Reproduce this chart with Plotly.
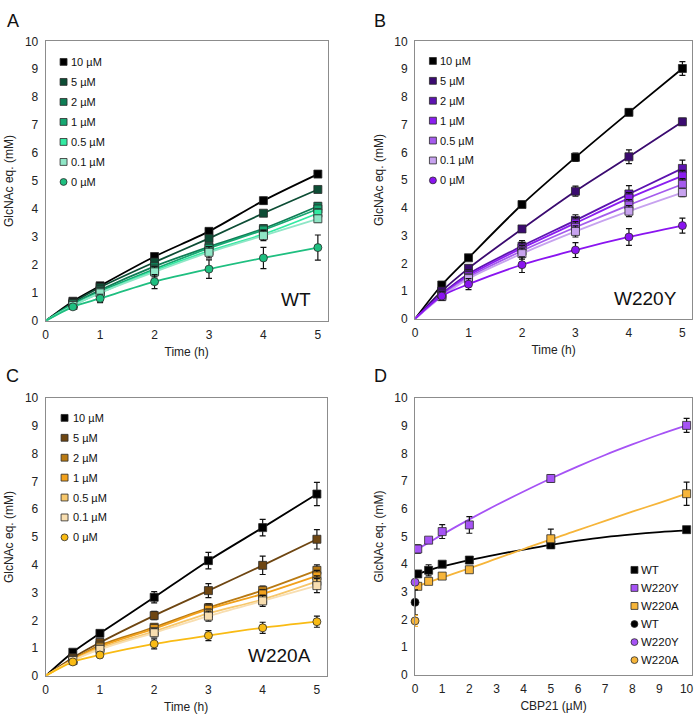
import plotly.graph_objects as go

W, H = 700, 724

# ---------------- data ----------------
TIME = [0.5, 1, 2, 3, 4, 5]
CONC_LABELS = ["10 µM", "5 µM", "2 µM", "1 µM", "0.5 µM", "0.1 µM", "0 µM"]

WT_MEANS = [
    [0.70, 1.25, 2.30, 3.20, 4.30, 5.25],
    [0.65, 1.20, 2.10, 2.95, 3.85, 4.70],
    [0.60, 1.10, 1.95, 2.65, 3.30, 4.10],
    [0.60, 1.05, 1.85, 2.60, 3.25, 4.00],
    [0.55, 1.00, 1.80, 2.50, 3.10, 3.85],
    [0.55, 1.00, 1.75, 2.45, 3.05, 3.65],
    [0.50, 0.80, 1.40, 1.85, 2.25, 2.62],
]
WT_ERR = [
    [0.05, 0.08, 0.08, 0.10, 0.12, 0.12],
    [0.05, 0.05, 0.06, 0.08, 0.08, 0.08],
    [0.05, 0.06, 0.08, 0.10, 0.12, 0.12],
    [0.05, 0.06, 0.10, 0.12, 0.12, 0.12],
    [0.05, 0.08, 0.15, 0.15, 0.15, 0.15],
    [0.08, 0.10, 0.18, 0.20, 0.18, 0.12],
    [0.08, 0.15, 0.25, 0.33, 0.38, 0.45],
]

W220Y_MEANS = [
    [1.22, 2.20, 4.12, 5.82, 7.44, 9.02],
    [1.00, 1.82, 3.24, 4.60, 5.84, 7.10],
    [0.90, 1.62, 2.62, 3.55, 4.50, 5.42],
    [0.86, 1.56, 2.55, 3.45, 4.35, 5.15],
    [0.82, 1.50, 2.45, 3.30, 4.10, 4.85],
    [0.80, 1.45, 2.35, 3.15, 3.88, 4.55],
    [0.82, 1.25, 1.95, 2.48, 2.95, 3.36],
]
W220Y_ERR = [
    [0.08, 0.08, 0.10, 0.15, 0.12, 0.25],
    [0.08, 0.10, 0.08, 0.18, 0.25, 0.12],
    [0.10, 0.15, 0.20, 0.20, 0.30, 0.30],
    [0.10, 0.15, 0.20, 0.20, 0.20, 0.20],
    [0.10, 0.12, 0.20, 0.20, 0.20, 0.20],
    [0.10, 0.12, 0.20, 0.20, 0.20, 0.15],
    [0.15, 0.20, 0.28, 0.27, 0.30, 0.27],
]

W220A_MEANS = [
    [0.85, 1.53, 2.83, 4.15, 5.34, 6.55],
    [0.65, 1.20, 2.17, 3.07, 3.98, 4.92],
    [0.60, 1.10, 1.75, 2.45, 3.08, 3.80],
    [0.58, 1.05, 1.70, 2.40, 2.95, 3.60],
    [0.55, 1.00, 1.60, 2.25, 2.75, 3.40],
    [0.55, 0.95, 1.55, 2.15, 2.70, 3.25],
    [0.50, 0.75, 1.15, 1.45, 1.73, 1.95],
]
W220A_ERR = [
    [0.05, 0.05, 0.20, 0.30, 0.30, 0.42],
    [0.05, 0.10, 0.15, 0.25, 0.33, 0.35],
    [0.05, 0.08, 0.12, 0.15, 0.15, 0.20],
    [0.05, 0.08, 0.12, 0.15, 0.15, 0.20],
    [0.05, 0.08, 0.12, 0.15, 0.15, 0.20],
    [0.05, 0.08, 0.15, 0.18, 0.20, 0.25],
    [0.08, 0.10, 0.18, 0.18, 0.20, 0.20],
]

# panel D: product after 5 h vs CBP21 concentration
CBP21 = [0.1, 0.5, 1, 2, 5, 10]
VARIANTS = ["WT", "W220Y", "W220A"]
D_MEANS = [
    [3.65, 3.78, 4.00, 4.15, 4.70, 5.25],
    [4.55, 4.87, 5.18, 5.42, 7.10, 9.02],
    [3.20, 3.38, 3.57, 3.80, 4.92, 6.55],
]
D_ERR = [
    [0.10, 0.20, 0.08, 0.10, 0.10, 0.10],
    [0.15, 0.08, 0.25, 0.30, 0.12, 0.25],
    [0.10, 0.10, 0.10, 0.08, 0.35, 0.42],
]
# fitted trend curves in panel D
D_FIT_X = [0.1, 0.5, 1, 2, 3, 4, 5, 6, 7, 8, 9, 10]
D_FIT = [
    [3.65, 3.78, 3.92, 4.15, 4.35, 4.53, 4.70, 4.85, 4.98, 5.08, 5.16, 5.22],
    [4.55, 4.78, 5.07, 5.62, 6.14, 6.63, 7.10, 7.54, 7.95, 8.33, 8.69, 9.02],
    [3.20, 3.35, 3.52, 3.85, 4.20, 4.55, 4.90, 5.23, 5.57, 5.90, 6.22, 6.55],
]
D_ZERO_X = [0]
D_ZERO_MEANS = [2.62, 3.35, 1.95]
D_ZERO_ERR = [0.45, 0.08, 0.20]

# ---------------- styles ----------------
GREENS = ["#000000", "#0d4d35", "#0f7d55", "#17a872", "#33eaa2", "#8fe6c6", "#1fbf80"]
PURPLES = ["#000000", "#3b0b70", "#5d13b0", "#8b1ef0", "#a55bed", "#c7a2ef", "#8a14f0"]
ORANGES = ["#000000", "#6e4612", "#b97a13", "#f2a11c", "#f7c76b", "#f8deb0", "#f9bb14"]
D_COLORS = ["#000000", "#a653f5", "#f6b53a"]

FONT = "Liberation Sans, Arial, sans-serif"
FRAME = "#8c8c8c"

fig = go.Figure()


def px_x(p):
    return p / W


def px_y(p):
    return 1 - p / H


# axes domains (pixels)
PANELS = {
    "A": dict(x=(43, 327), y=(35, 320)),
    "B": dict(x=(415, 694), y=(35, 318)),
    "C": dict(x=(43, 326), y=(399, 682)),
    "D": dict(x=(415, 694), y=(399, 681)),
}

ERR_STYLE = dict(type="data", color="#111111", thickness=1.2, width=3)


def add_time_panel(means, errs, colors, ax):
    xa = "x" + ("" if ax == 1 else str(ax))
    ya = "y" + ("" if ax == 1 else str(ax))
    for i, (m, e, c) in enumerate(zip(means, errs, colors)):
        fig.add_trace(go.Scatter(
            x=[0] + TIME, y=[0] + m, mode="lines",
            line=dict(color=c, width=1.8, shape="spline", smoothing=0.8),
            xaxis=xa, yaxis=ya, showlegend=False, hoverinfo="skip"))
        fig.add_trace(go.Scatter(
            x=TIME, y=m, mode="markers",
            marker=dict(symbol="circle" if i == len(means) - 1 else "square",
                        size=8, color=c, line=dict(color="#2a2a2a", width=0.8)),
            error_y=dict(array=e, **ERR_STYLE),
            xaxis=xa, yaxis=ya, showlegend=False, name=CONC_LABELS[i]))


add_time_panel(WT_MEANS, WT_ERR, GREENS, 1)
add_time_panel(W220Y_MEANS, W220Y_ERR, PURPLES, 2)
add_time_panel(W220A_MEANS, W220A_ERR, ORANGES, 3)

for i, (f, c) in enumerate(zip(D_FIT, D_COLORS)):
    fig.add_trace(go.Scatter(
        x=D_FIT_X, y=f, mode="lines",
        line=dict(color=c, width=1.8, shape="spline", smoothing=1.0),
        xaxis="x4", yaxis="y4", showlegend=False, hoverinfo="skip"))
for i, (m, e, c) in enumerate(zip(D_MEANS, D_ERR, D_COLORS)):
    fig.add_trace(go.Scatter(
        x=CBP21, y=m, mode="markers",
        marker=dict(symbol="square", size=8, color=c, line=dict(color="#2a2a2a", width=0.8)),
        error_y=dict(array=e, **ERR_STYLE),
        xaxis="x4", yaxis="y4", showlegend=False, name=VARIANTS[i]))
for i, (v, e, c) in enumerate(zip(D_ZERO_MEANS, D_ZERO_ERR, D_COLORS)):
    fig.add_trace(go.Scatter(
        x=D_ZERO_X, y=[v], mode="markers", cliponaxis=False,
        marker=dict(symbol="circle", size=8, color=c, line=dict(color="#2a2a2a", width=0.8)),
        error_y=dict(type="data", array=[e], color="#111111" if i < 2 else "#f6b53a",
                     thickness=1.2, width=3),
        xaxis="x4", yaxis="y4", showlegend=False, name=VARIANTS[i]))

# ---------------- axes ----------------
tickfont = dict(family=FONT, size=12, color="#222222")
titlefont = dict(family=FONT, size=12, color="#222222")
layout_axes = {}
for k, (name, p) in enumerate(PANELS.items(), start=1):
    sfx = "" if k == 1 else str(k)
    is_d = name == "D"
    layout_axes["xaxis" + sfx] = dict(
        domain=[px_x(p["x"][0]), px_x(p["x"][1])],
        anchor="y" + sfx,
        range=[0, 10.2] if is_d else [0, 5.18],
        tickmode="linear", tick0=0, dtick=1,
        showline=True, mirror=True, linecolor=FRAME, linewidth=1,
        showgrid=False, zeroline=False,
        ticks="outside", ticklen=3, tickcolor="rgba(0,0,0,0)",
        tickfont=tickfont,
        title=dict(text="CBP21 (µM)" if is_d else "Time (h)", font=titlefont, standoff=6),
    )
    layout_axes["yaxis" + sfx] = dict(
        domain=[px_y(p["y"][1]), px_y(p["y"][0])],
        anchor="x" + sfx,
        range=[0, 10], tickmode="linear", tick0=0, dtick=1,
        showline=True, mirror=True, linecolor=FRAME, linewidth=1,
        showgrid=False, zeroline=False,
        ticks="outside", ticklen=4, tickcolor="rgba(0,0,0,0)",
        tickfont=tickfont,
        title=dict(text="GlcNAc eq. (mM)", font=titlefont, standoff=8),
    )

# ---------------- annotations & custom legends ----------------
annotations = []
shapes = []

for letter, (lx, ly) in {"A": (10, 14), "B": (380, 14), "C": (10, 376), "D": (380, 376)}.items():
    annotations.append(dict(text=letter, x=px_x(lx), y=px_y(ly), xref="paper", yref="paper",
                            showarrow=False, font=dict(family=FONT, size=18, color="#111111"),
                            xanchor="center", yanchor="middle"))

for label, (lx, ly) in {"WT": (295, 298), "W220Y": (647, 297), "W220A": (278, 661)}.items():
    annotations.append(dict(text=label, x=px_x(lx), y=px_y(ly), xref="paper", yref="paper",
                            showarrow=False, font=dict(family=FONT, size=19, color="#111111"),
                            xanchor="center", yanchor="middle"))


def add_legend(labels, colors, symbols, mx, tx, y0, step, fsize=11):
    for j, (lab, col, sym) in enumerate(zip(labels, colors, symbols)):
        cy = y0 + j * step
        r = 3.5
        shapes.append(dict(type="rect" if sym == "square" else "circle",
                           xref="paper", yref="paper",
                           x0=px_x(mx - r), x1=px_x(mx + r),
                           y0=px_y(cy + r), y1=px_y(cy - r),
                           fillcolor=col, line=dict(color="#2a2a2a", width=0.8)))
        annotations.append(dict(text=lab, x=px_x(tx), y=px_y(cy), xref="paper", yref="paper",
                                showarrow=False, xanchor="left", yanchor="middle",
                                font=dict(family=FONT, size=fsize, color="#111111")))


SYMS7 = ["square"] * 6 + ["circle"]
add_legend(CONC_LABELS, GREENS, SYMS7, 61, 66, 56, 20.4)
add_legend(CONC_LABELS, PURPLES, SYMS7, 433, 438, 55, 20.3)
add_legend(CONC_LABELS, ORANGES, SYMS7, 62, 68, 419, 20.3)
add_legend(VARIANTS + VARIANTS, D_COLORS + D_COLORS, ["square"] * 3 + ["circle"] * 3,
           636, 641, 574, 18.4, fsize=11.5)

fig.update_layout(
    width=W, height=H,
    margin=dict(l=0, r=0, t=0, b=0),
    paper_bgcolor="white", plot_bgcolor="white",
    showlegend=False,
    annotations=annotations, shapes=shapes,
    font=dict(family=FONT),
    **layout_axes,
)

fig.write_html("out.html")
